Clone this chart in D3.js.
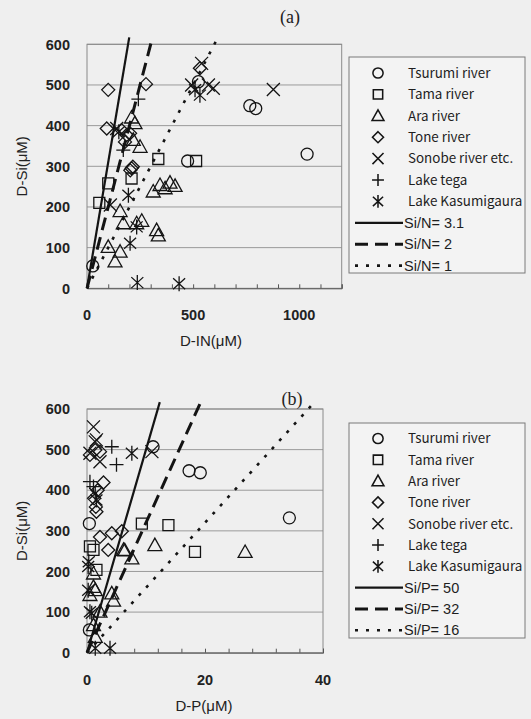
<!DOCTYPE html>
<html>
<head>
<meta charset="utf-8">
<script src="https://cdn.jsdelivr.net/npm/d3@7"></script>
<style>
  html, body { margin: 0; padding: 0; background: #efefef; }
  svg { display: block; }
</style>
</head>
<body>
<svg id="fig" width="531" height="719"></svg>
<script>
// ---- series names and legend labels ----
const seriesNames = ["Tsurumi river", "Tama river", "Ara river", "Tone river",
                     "Sonobe river etc.", "Lake tega", "Lake Kasumigaura"];
const seriesShapes = ["circle", "square", "triangle", "diamond", "cross", "plus", "asterisk"];

// ---- panel (a): D-IN vs D-Si, [D-IN, D-Si] in µM ----
const tsurumiN = [[27, 55], [474, 313], [525, 508], [767, 449], [795, 442], [1037, 330]];
const tamaN = [[58, 210], [100, 258], [210, 270], [336, 318], [514, 313]];
const araN = [[156, 190], [171, 160], [234, 160], [258, 166], [328, 143], [336, 130],
              [100, 102], [156, 90], [132, 66], [312, 238], [344, 254], [368, 246],
              [391, 260], [415, 252], [210, 420], [226, 406], [218, 365], [250, 348]];
const toneN = [[100, 488], [278, 502], [93, 393], [163, 389], [187, 377], [179, 360],
               [203, 381], [210, 295], [204, 290], [216, 299], [532, 541]];
const sonobeN = [[140, 393], [540, 553], [493, 500], [572, 500], [595, 492], [878, 489], [110, 205]];
const tegaN = [[242, 465], [171, 340]];
const kasumiN = [[195, 229], [234, 151], [203, 111], [237, 14], [434, 11],
                 [532, 475], [509, 488], [150, 385]];

// ---- panel (b): D-P vs D-Si, [D-P, D-Si] in µM ----
const tsurumiP = [[11.2, 507], [17.3, 448], [19.2, 443], [34.3, 332], [0.4, 318], [0.4, 56]];
const tamaP = [[9.3, 318], [13.8, 314], [18.3, 248], [1.1, 253], [0.5, 262], [1.6, 204]];
const araP = [[11.5, 265], [6.4, 252], [7.6, 232], [26.8, 248], [4.2, 146], [4.5, 128],
              [1.4, 154], [2.2, 101], [1.1, 195], [1.1, 162], [0.5, 142], [1.1, 68], [1.4, 39], [6.2, 253]];
const toneP = [[0.5, 487], [2.2, 495], [1.4, 499], [2.8, 419], [1.5, 359], [1.6, 347],
               [2.2, 285], [4.2, 294], [5.9, 299], [3.6, 253], [1.2, 380], [1.8, 400]];
const sonobeP = [[1.1, 556], [1.6, 524], [11.0, 495], [0.5, 491], [2.2, 470], [1.4, 519]];
const tegaP = [[4.2, 507], [5.0, 463], [1.1, 409], [0.5, 421]];
const kasumiP = [[7.6, 491], [1.4, 392], [1.6, 376], [0.2, 212], [0.2, 154], [0.5, 101],
                 [1.4, 11], [3.9, 11], [0.8, 97], [0.3, 224]];

// ---- reference ratio lines ----
const ratiosN = [3.1, 2, 1];
const ratiosP = [50, 32, 16];
const ratioLabelsN = ["Si/N= 3.1", "Si/N= 2", "Si/N= 1"];
const ratioLabelsP = ["Si/P= 50", "Si/P= 32", "Si/P= 16"];
const ratioLineTop = 617;  // D-Si where each ratio line ends

// ---- axis ticks ----
const yTicks = [0, 100, 200, 300, 400, 500, 600];
const xTicksN = [0, 500, 1000];
const xTicksP = [0, 20, 40];

const lineStyles = [
  { dash: null, width: 2.2 },
  { dash: "13,7", width: 3 },
  { dash: "3,8", width: 2.6 }
];

const svg = d3.select("#fig");
const ink = "#141414";
const gridCol = "#9a9a9a";
const sansFont = "'Liberation Sans', Arial, sans-serif";
const gothicFont = "'Noto Sans CJK JP', 'DejaVu Sans', sans-serif";
const serifFont = "'Liberation Serif', 'Times New Roman', serif";

function markerPath(shape) {
  const p = d3.path();
  switch (shape) {
    case "circle": p.moveTo(6, 0); p.arc(0, 0, 6, 0, 2 * Math.PI); break;
    case "square": p.rect(-5.5, -5.5, 11, 11); break;
    case "triangle": p.moveTo(0, -7); p.lineTo(7, 5.5); p.lineTo(-7, 5.5); p.closePath(); break;
    case "diamond": p.moveTo(0, -6.5); p.lineTo(6.5, 0); p.lineTo(0, 6.5); p.lineTo(-6.5, 0); p.closePath(); break;
    case "cross": p.moveTo(-6.5, -6.5); p.lineTo(6.5, 6.5); p.moveTo(6.5, -6.5); p.lineTo(-6.5, 6.5); break;
    case "plus": p.moveTo(-7, 0); p.lineTo(7, 0); p.moveTo(0, -7); p.lineTo(0, 7); break;
    case "asterisk": p.moveTo(-6, -5.5); p.lineTo(6, 5.5); p.moveTo(6, -5.5); p.lineTo(-6, 5.5);
                     p.moveTo(0, -7.5); p.lineTo(0, 7.5); break;
  }
  return p.toString();
}

function drawPanel(cfg) {
  const x = d3.scaleLinear().domain([0, cfg.xMax]).range([cfg.left, cfg.right]);
  const y = d3.scaleLinear().domain([0, 600]).range([cfg.bottom, cfg.top]);
  const g = svg.append("g");

  // gridlines
  g.selectAll("line.grid").data(yTicks.filter(d => d > 0)).join("line")
    .attr("x1", cfg.left).attr("x2", cfg.right)
    .attr("y1", d => y(d)).attr("y2", d => y(d))
    .attr("stroke", gridCol).attr("stroke-width", 1);

  // plot frame
  g.append("rect").attr("x", cfg.left).attr("y", cfg.top)
    .attr("width", cfg.right - cfg.left).attr("height", cfg.bottom - cfg.top)
    .attr("fill", "none").attr("stroke", "#8a8a8a").attr("stroke-width", 1);

  // x axis baseline with minor ticks
  const xAxis = d3.axisBottom(x).tickValues(d3.range(0, cfg.xMax + 1e-9, cfg.minor))
    .tickSize(-4).tickFormat("");
  g.append("g").attr("transform", `translate(0,${cfg.bottom})`).call(xAxis)
    .call(a => a.selectAll("line,path").attr("stroke", "#555"));

  // tick labels
  g.selectAll("text.yt").data(yTicks).join("text")
    .attr("x", cfg.left - 17).attr("y", d => y(d)).attr("dy", "0.36em")
    .attr("text-anchor", "end").style("font-family", sansFont)
    .attr("font-size", 14.5).attr("font-weight", "bold").attr("fill", "#222").text(d => d);
  g.selectAll("text.xt").data(cfg.xTicks).join("text")
    .attr("x", d => x(d)).attr("y", cfg.bottom + 32)
    .attr("text-anchor", "middle").style("font-family", sansFont)
    .attr("font-size", 14.5).attr("font-weight", "bold").attr("fill", "#222").text(d => d);

  // axis titles
  g.append("text").attr("x", cfg.xLabelX).attr("y", cfg.bottom + 58)
    .attr("text-anchor", "middle").style("font-family", sansFont)
    .attr("font-size", 15).attr("fill", "#222").text(cfg.xLabel);
  g.append("text")
    .attr("transform", `translate(27,${(cfg.top + cfg.bottom) / 2}) rotate(-90)`)
    .attr("text-anchor", "middle").style("font-family", sansFont)
    .attr("font-size", 15).attr("fill", "#222").text("D-Si(μM)");

  // panel tag
  g.append("text").attr("x", cfg.tagX).attr("y", cfg.tagY).attr("text-anchor", "middle")
    .style("font-family", serifFont)
    .attr("font-size", 18).attr("fill", "#222").text(cfg.tag);

  // ratio lines
  cfg.ratios.forEach((r, i) => {
    const st = lineStyles[i];
    g.append("line")
      .attr("x1", x(0)).attr("y1", y(0))
      .attr("x2", x(ratioLineTop / r)).attr("y2", y(ratioLineTop))
      .attr("stroke", ink).attr("stroke-width", st.width)
      .attr("stroke-dasharray", st.dash);
  });

  // data markers
  cfg.series.forEach((pts, i) => {
    g.selectAll(null).data(pts).join("path")
      .attr("transform", d => `translate(${x(d[0])},${y(d[1])})`)
      .attr("d", markerPath(seriesShapes[i]))
      .attr("fill", "none").attr("stroke", ink).attr("stroke-width", 1.3);
  });

  // legend
  const L = cfg.legend;
  const lg = svg.append("g");
  lg.append("rect").attr("x", L.x).attr("y", L.y).attr("width", L.w).attr("height", L.h)
    .attr("fill", "#f3f3f3").attr("stroke", "#7a7a7a").attr("stroke-width", 1);
  seriesNames.forEach((name, i) => {
    const cy = L.firstRow + i * L.step;
    lg.append("path").attr("transform", `translate(${L.x + 29},${cy}) scale(0.85)`)
      .attr("d", markerPath(seriesShapes[i]))
      .attr("fill", "none").attr("stroke", ink).attr("stroke-width", 1.8);
    lg.append("text").attr("x", L.x + 59).attr("y", cy).attr("dy", "0.36em")
      .style("font-family", gothicFont).style("font-size", "13.4px")
      .attr("fill", "#1e1e1e").text(name);
  });
  cfg.ratioLabels.forEach((lab, i) => {
    const cy = L.firstRow + (7 + i) * L.step;
    const st = lineStyles[i];
    lg.append("line").attr("x1", L.x + 6).attr("x2", L.x + 54).attr("y1", cy).attr("y2", cy)
      .attr("stroke", ink).attr("stroke-width", st.width).attr("stroke-dasharray", st.dash);
    lg.append("text").attr("x", L.x + 55).attr("y", cy).attr("dy", "0.36em")
      .style("font-family", sansFont)
      .attr("font-size", 14.5).attr("fill", "#1e1e1e").text(lab);
  });
}

drawPanel({
  xMax: 1200, minor: 100, left: 87, right: 341.7, top: 44.3, bottom: 288.3,
  xTicks: xTicksN, xLabel: "D-IN(μM)", xLabelX: 211, tag: "(a)", tagX: 290, tagY: 23,
  ratios: ratiosN, ratioLabels: ratioLabelsN,
  series: [tsurumiN, tamaN, araN, toneN, sonobeN, tegaN, kasumiN],
  legend: { x: 349, y: 57, w: 176, h: 216, firstRow: 73, step: 21.4 }
});

drawPanel({
  xMax: 40, minor: 4, left: 87, right: 323, top: 409, bottom: 652.7,
  xTicks: xTicksP, xLabel: "D-P(μM)", xLabelX: 204, tag: "(b)", tagX: 292, tagY: 405,
  ratios: ratiosP, ratioLabels: ratioLabelsP,
  series: [tsurumiP, tamaP, araP, toneP, sonobeP, tegaP, kasumiP],
  legend: { x: 349, y: 423, w: 176, h: 215, firstRow: 438.5, step: 21.3 }
});
</script>
</body>
</html>
